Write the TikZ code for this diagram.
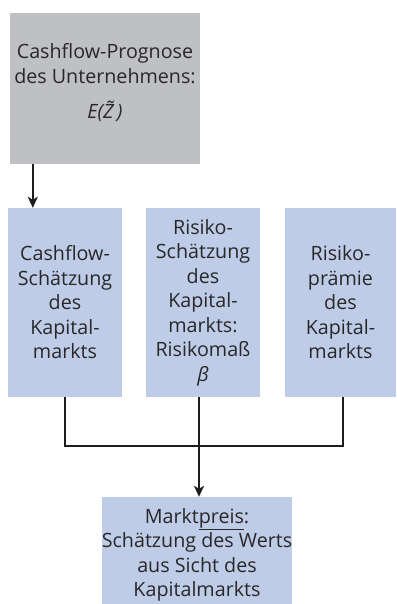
\documentclass[tikz,border=0pt]{standalone}
\usepackage{fontspec}
\setmainfont{Open Sans}
\usetikzlibrary{arrows.meta}
\definecolor{boxgray}{RGB}{191,192,196}
\definecolor{boxblue}{RGB}{191,204,232}
\definecolor{txt}{RGB}{40,40,40}
\definecolor{linec}{RGB}{30,28,30}
\tikzset{
  base/.style={inner sep=0pt, align=center, text=txt,
    font=\fontsize{19.7pt}{24.5pt}\selectfont},
  graybox/.style={base, fill=boxgray, minimum width=190pt, minimum height=151pt},
  bluebox/.style={base, fill=boxblue, minimum width=114pt, minimum height=189pt},
  conn/.style={line width=2.5pt, draw=linec},
  arr/.style={conn, -{Stealth[length=11pt,width=10pt,inset=3pt]}}
}
\begin{document}
\begin{tikzpicture}[x=1pt,y=-1pt]
\useasboundingbox (0,0) rectangle (396,604);
\node[graybox] (gray) at (105,88.5) {};
\node[base] (graytext) at (105,83) {Cashflow-Prognose\\des Unternehmens:\\[11pt]{\itshape E(\~{Z}\,)}};
\node[bluebox] (b1) at (65,302.5) {Cashflow-\\Schätzung\\des\\Kapital-\\markts};
\node[bluebox] (b2) at (203,302.5) {Risiko-\\Schätzung\\des\\Kapital-\\markts:\\Risikomaß\\{\itshape β}};
\node[bluebox, minimum width=111pt] (b3) at (340.5,302.5) {Risiko-\\prämie\\des\\Kapital-\\markts};
\node[base, fill=boxblue, minimum width=190pt, minimum height=107pt] (m) at (197,550.5) {};
\node[base] (mtext) at (197,555) {Markt\underline{preis}:\\Schätzung des Werts\\aus Sicht des\\Kapitalmarkts};
\coordinate (j) at (199,446);
\draw[arr] ([xshift=23pt]gray.south west) -- ([xshift=25pt]b1.north west);
\draw[conn] (b1.south) |- (j) -| ([xshift=2.5pt]b3.south);
\draw[conn] (b2.south -| j) -- (j);
\draw[arr] (j) -- (m.north -| j);
\end{tikzpicture}
\end{document}
